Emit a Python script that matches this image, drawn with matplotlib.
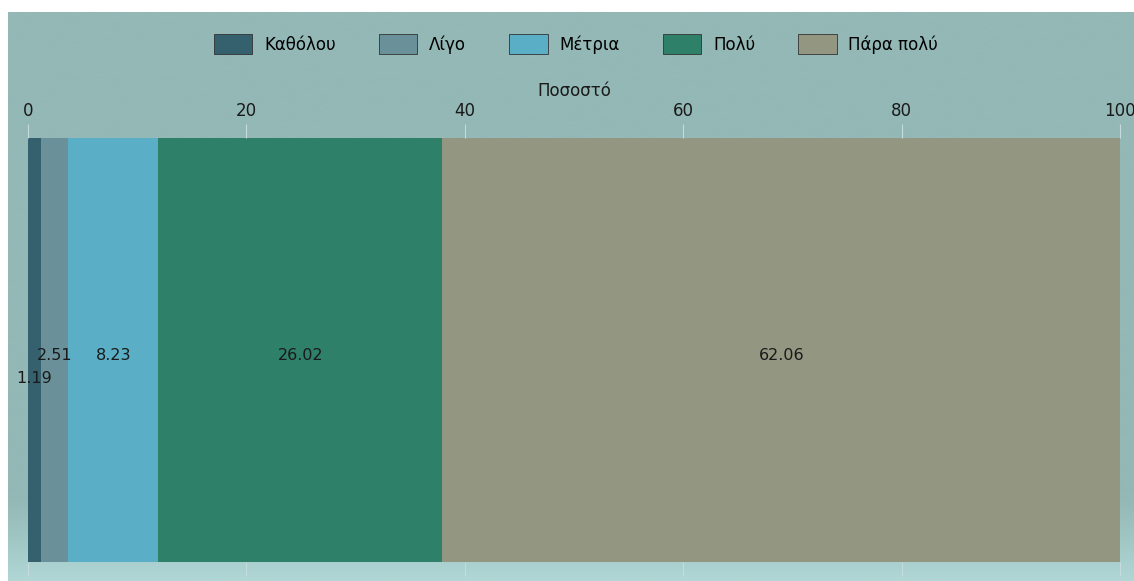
import numpy as np
import matplotlib.pyplot as plt
from matplotlib.colors import to_rgb

categories = ['Καθόλου', 'Λίγο', 'Μέτρια', 'Πολύ', 'Πάρα πολύ']
values = [1.19, 2.51, 8.23, 26.02, 62.06]
colors = ['#35606e', '#6a9199', '#5aafc6', '#2f8068', '#939680']
xticks = [0, 20, 40, 60, 80, 100]

W, H = 1134, 581
fig = plt.figure(figsize=(W / 100, H / 100), dpi=100)
fig.patch.set_facecolor('white')

# teal background panel with a lighter band at the bottom
bg = fig.add_axes([8 / W, 0, 1 - 8 / W, 1 - 12 / H], zorder=-1)
top_c = np.array(to_rgb('#93b8b6'))
bot_c = np.array(to_rgb('#b0d7d5'))
t = np.linspace(0, 1, 300)
w = np.clip((t - 0.86) / 0.14, 0, 1)[:, None]
grad = top_c * (1 - w) + bot_c * w
bg.imshow(grad[:, None, :], aspect='auto', extent=[0, 1, 1, 0])
bg.axis('off')

ax = fig.add_axes([28 / W, 19 / H, 1092 / W, 424 / H])
ax.set_facecolor('none')

left = 0
for cat, v, c in zip(categories, values, colors):
    ax.barh(0, v, left=left, height=1, color=c, label=cat, linewidth=0)
    dy = -0.055 if v < 2 else 0.0
    ax.text(left + v / 2, -0.012 + dy, f'{v:.2f}', ha='center', va='center',
            fontsize=11.5, color='#1a1a1a')
    left += v

ax.set_xlim(0, 100)
ax.set_ylim(-0.5, 0.5)
ax.set_yticks([])
ax.set_xticks(xticks)
ax.xaxis.tick_top()
ax.xaxis.set_label_position('top')
ax.tick_params(axis='x', which='both', top=True, bottom=True, labeltop=True,
               labelbottom=False, length=10, color='#c6dcdc', labelsize=12,
               labelcolor='#1a1a1a', pad=3)
ax.set_xlabel('Ποσοστό', fontsize=12, color='#1a1a1a', labelpad=4)
for s in ax.spines.values():
    s.set_visible(False)

handles, labels = ax.get_legend_handles_labels()
leg = fig.legend(handles, labels, loc='center', bbox_to_anchor=(576 / W, 1 - 44 / H),
                 ncol=5, frameon=False, fontsize=12, handlelength=2.3,
                 handleheight=1.4, columnspacing=2.6, handletextpad=0.7)
for h in leg.legend_handles:
    h.set_edgecolor('#333333')
    h.set_linewidth(0.6)

fig.savefig('out.png', dpi=100, facecolor=fig.get_facecolor())
